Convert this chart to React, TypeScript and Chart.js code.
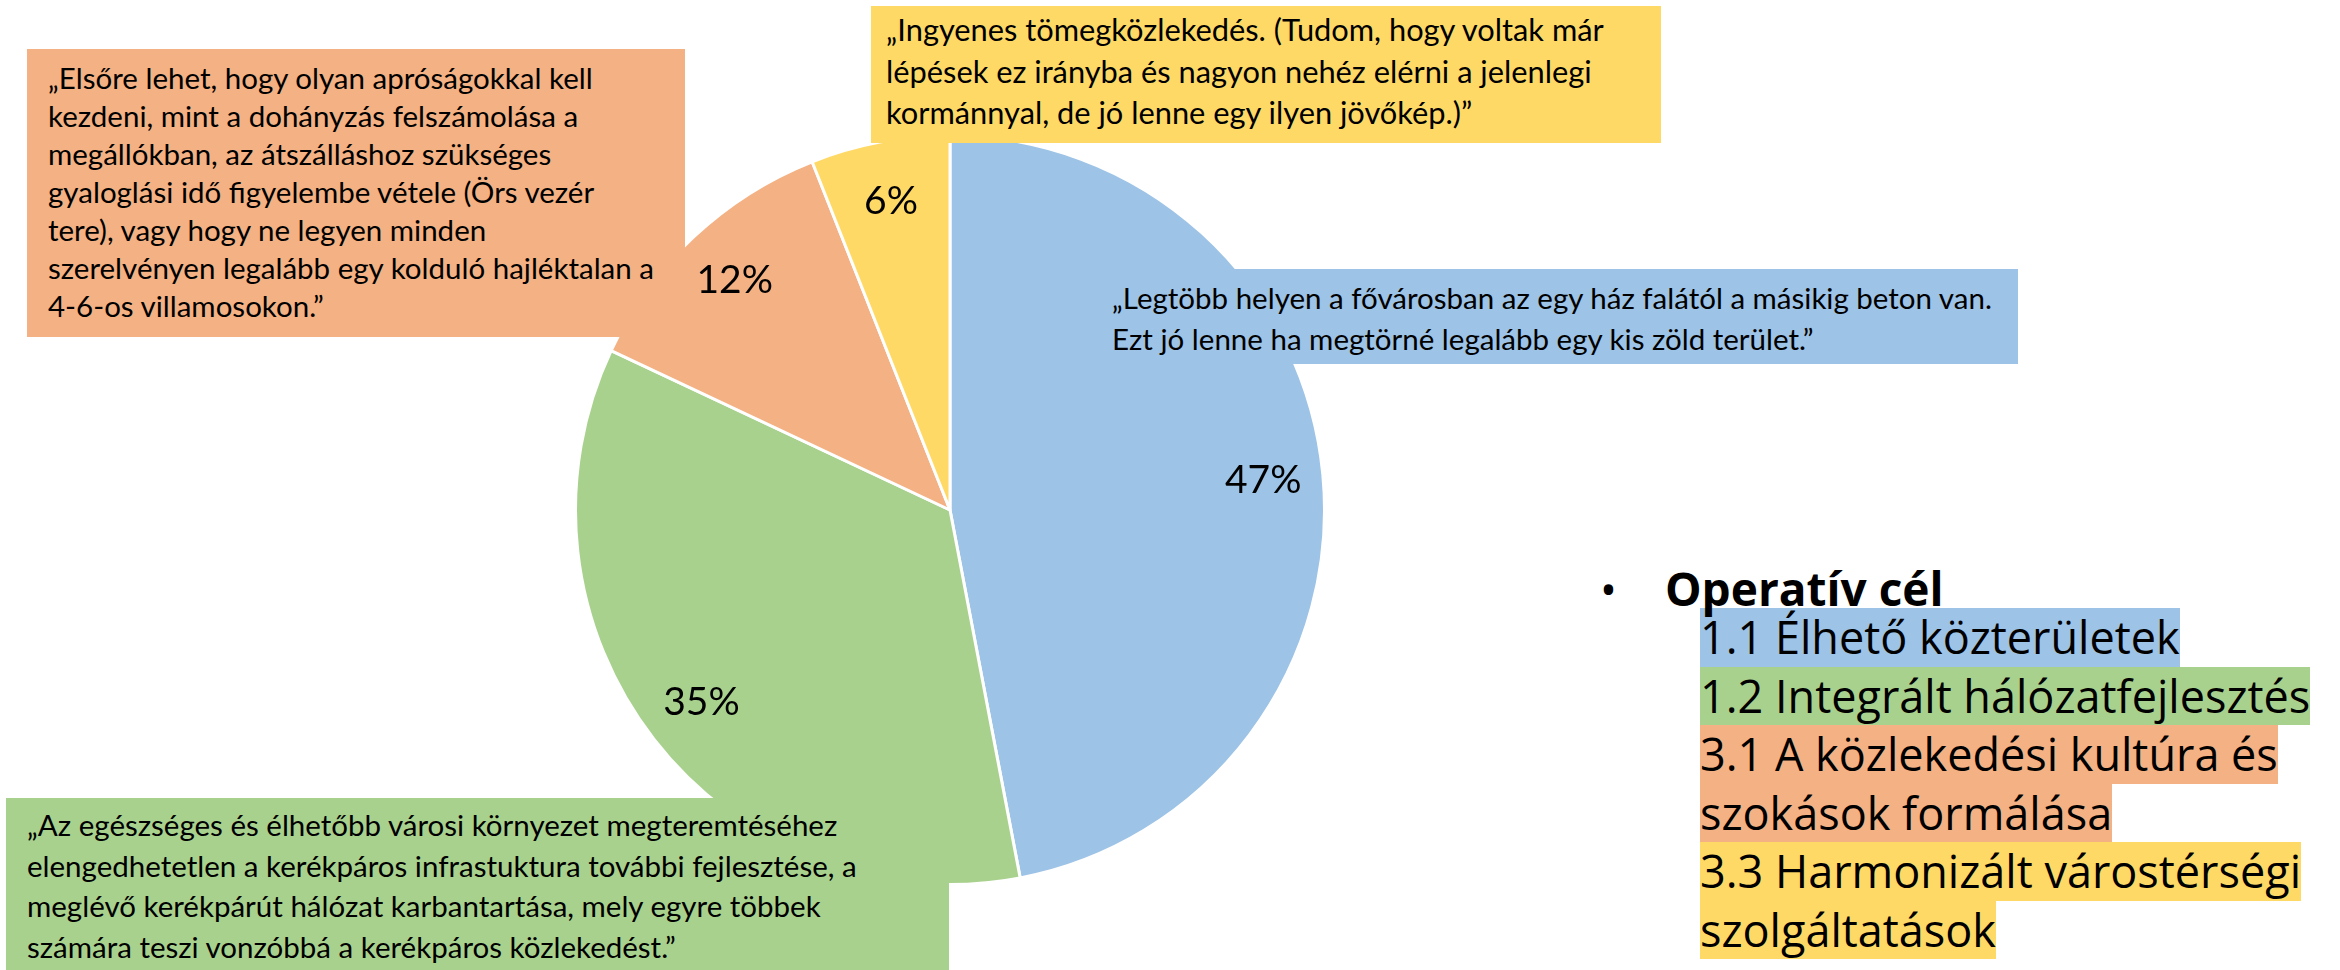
import React, { useEffect, useRef } from "react";
import { Chart, registerables } from "chart.js";

Chart.register(...registerables);

const categories = [
  "1.1 Élhető közterületek",
  "1.2 Integrált hálózatfejlesztés",
  "3.1 A közlekedési kultúra és szokások formálása",
  "3.3 Harmonizált várostérségi szolgáltatások",
];
const values = [47, 35, 12, 6];
const sliceColors = ["#9DC3E6", "#A9D18E", "#F4B183", "#FFD966"];

const legendTitle = "Operatív cél";
const legendLines = [
  { text: "1.1 Élhető közterületek", cat: 0 },
  { text: "1.2 Integrált hálózatfejlesztés", cat: 1 },
  { text: "3.1 A közlekedési kultúra és", cat: 2 },
  { text: "szokások formálása", cat: 2 },
  { text: "3.3 Harmonizált várostérségi", cat: 3 },
  { text: "szolgáltatások", cat: 3 },
];

const quoteOrange = [
  "„Elsőre lehet, hogy olyan apróságokkal kell",
  "kezdeni, mint a dohányzás felszámolása a",
  "megállókban, az átszálláshoz szükséges",
  "gyaloglási idő figyelembe vétele (Örs vezér",
  "tere), vagy hogy ne legyen minden",
  "szerelvényen legalább egy kolduló hajléktalan a",
  "4-6-os villamosokon.”",
];
const quoteYellow = [
  "„Ingyenes tömegközlekedés. (Tudom, hogy voltak már",
  "lépések ez irányba és nagyon nehéz elérni a jelenlegi",
  "kormánnyal, de jó lenne egy ilyen jövőkép.)”",
];
const quoteBlue = [
  "„Legtöbb helyen a fővárosban az egy ház falától a másikig beton van.",
  "Ezt jó lenne ha megtörné legalább egy kis zöld terület.”",
];
const quoteGreen = [
  "„Az egészséges és élhetőbb városi környezet megteremtéséhez",
  "elengedhetetlen a kerékpáros infrastuktura további fejlesztése, a",
  "meglévő kerékpárút hálózat karbantartása, mely egyre többek",
  "számára teszi vonzóbbá a kerékpáros közlekedést.”",
];

const PIE_SIZE = 752;
const PIE_CX = 950;
const PIE_CY = 510;

function QuoteBox(props: {
  lines: string[];
  color: string;
  left: number;
  top: number;
  width: number;
  height: number;
  padLeft: number;
  padTop: number;
  fontSize: number;
  lineHeight: number;
}) {
  return (
    <div
      style={{
        position: "absolute",
        left: props.left,
        top: props.top,
        width: props.width,
        height: props.height,
        background: props.color,
        boxSizing: "border-box",
        paddingLeft: props.padLeft,
        paddingTop: props.padTop,
        fontFamily: "Lato, 'Noto Sans', sans-serif",
        fontSize: props.fontSize,
        lineHeight: props.lineHeight + "px",
        color: "#000",
        whiteSpace: "nowrap",
        overflow: "hidden",
      }}
    >
      {props.lines.map((l, i) => (
        <div key={i}>{l}</div>
      ))}
    </div>
  );
}

export default function App() {
  const canvasRef = useRef<HTMLCanvasElement>(null);

  useEffect(() => {
    let chart: Chart | null = null;
    let cancelled = false;
    const pctPlugin = {
      id: "pctLabels",
      afterDatasetsDraw(c: any) {
        const ctx = c.ctx;
        const meta = c.getDatasetMeta(0);
        const total = values.reduce((a, b) => a + b, 0);
        ctx.save();
        ctx.font = "39px Lato";
        ctx.fillStyle = "#000";
        ctx.textAlign = "center";
        ctx.textBaseline = "middle";
        meta.data.forEach((arc: any, i: number) => {
          const p = arc.getProps(["x", "y", "startAngle", "endAngle", "outerRadius"], true);
          const mid = (p.startAngle + p.endAngle) / 2;
          const r = p.outerRadius * 0.84;
          ctx.fillText(
            Math.round((values[i] / total) * 100) + "%",
            p.x + Math.cos(mid) * r,
            p.y + Math.sin(mid) * r
          );
        });
        ctx.restore();
      },
    };
    const make = () => {
      if (cancelled || !canvasRef.current) return;
      chart = new Chart(canvasRef.current, {
        type: "pie",
        data: {
          labels: categories,
          datasets: [
            {
              data: values,
              backgroundColor: sliceColors,
              borderColor: "#FFFFFF",
              borderWidth: 3,
            },
          ],
        },
        options: {
          animation: false,
          responsive: false,
          devicePixelRatio: 1,
          layout: { padding: 0 },
          plugins: { legend: { display: false }, tooltip: { enabled: false } },
        },
        plugins: [pctPlugin],
      });
    };
    const fontsApi = (document as any).fonts;
    if (fontsApi && fontsApi.load) {
      fontsApi.load("39px Lato").then(make, make);
    } else {
      make();
    }
    return () => {
      cancelled = true;
      if (chart) chart.destroy();
    };
  }, []);

  return (
    <div
      style={{
        position: "absolute",
        left: 0,
        top: 0,
        width: 2340,
        height: 970,
        overflow: "hidden",
        background: "#FFFFFF",
      }}
    >
      <canvas
        ref={canvasRef}
        width={PIE_SIZE}
        height={PIE_SIZE}
        style={{
          position: "absolute",
          left: PIE_CX - PIE_SIZE / 2,
          top: PIE_CY - PIE_SIZE / 2,
          width: PIE_SIZE,
          height: PIE_SIZE,
        }}
      />
      <QuoteBox lines={quoteOrange} color={sliceColors[2]} left={27} top={49} width={658} height={288} padLeft={21} padTop={10} fontSize={29.5} lineHeight={38} />
      <QuoteBox lines={quoteYellow} color={sliceColors[3]} left={871} top={6} width={790} height={137} padLeft={15} padTop={3} fontSize={30.8} lineHeight={41.5} />
      <QuoteBox lines={quoteBlue} color={sliceColors[0]} left={1095} top={269} width={923} height={95} padLeft={17} padTop={8} fontSize={29.5} lineHeight={41} />
      <QuoteBox lines={quoteGreen} color={sliceColors[1]} left={6} top={798} width={943} height={172} padLeft={21} padTop={7} fontSize={29.5} lineHeight={40.5} />

      <div
        style={{
          position: "absolute",
          left: 1700,
          top: 608,
          fontFamily: "'Open Sans', 'Noto Sans', sans-serif",
          fontSize: 45,
          lineHeight: "58.5px",
          color: "#000",
          whiteSpace: "nowrap",
        }}
      >
        {legendLines.map((l, i) => (
          <div key={i} style={{ height: 58.5 }}>
            <span style={{ background: sliceColors[l.cat], display: "inline-block", height: 58.5 }}>{l.text}</span>
          </div>
        ))}
      </div>
      <div
        style={{
          position: "absolute",
          left: 1600,
          top: 558,
          fontFamily: "'Open Sans', 'Noto Sans', sans-serif",
          fontSize: 45,
          lineHeight: "60px",
          color: "#000",
          whiteSpace: "nowrap",
        }}
      >
        <span style={{ display: "inline-block", width: 65 }}>•</span>
        <span style={{ fontWeight: 700, fontSize: 46 }}>{legendTitle}</span>
      </div>
    </div>
  );
}
